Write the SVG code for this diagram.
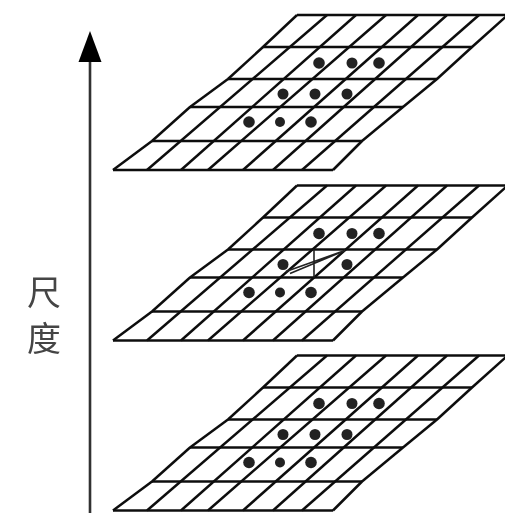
<svg xmlns="http://www.w3.org/2000/svg" width="505" height="513" viewBox="0 0 505 513">
<style>
.l{fill:none;stroke:#111;stroke-width:2.5;stroke-linejoin:round}
.t{stroke-width:1.6;stroke:#222;fill:none}
.d{fill:#222}
.x{font-family:"Noto Sans CJK SC","Noto Sans CJK TC",sans-serif;font-size:34px;font-weight:400;fill:#444;text-anchor:middle}
</style>
<defs>
<filter id="soft" x="-5%" y="-5%" width="110%" height="110%"><feGaussianBlur stdDeviation="0.6"/></filter>
<g id="grid">
<path class="l" d="M297 15H505M263 47H472M228 79H437M190 107H403M152 141H362M113 170H333"/>
<path class="l" d="M113 170L152 141L190 107L228 79L263 47L297 15M333 170L362 141L403 107L437 79L472 47L510 13"/>
<path class="l" d="M147 170L327 15M181 170L356 15M208 170L386 15M243 170L418 15M273 170L447 15M302 170L479 15"/>
</g>
<g id="dots8">
<circle class="d" cx="319" cy="63" r="5.8"/><circle class="d" cx="352" cy="63" r="5.5"/><circle class="d" cx="379" cy="63" r="5.8"/>
<circle class="d" cx="283" cy="94" r="5.5"/><circle class="d" cx="347" cy="94" r="5.5"/>
<circle class="d" cx="249" cy="122" r="5.8"/><circle class="d" cx="280" cy="122" r="5"/><circle class="d" cx="311" cy="122" r="5.8"/>
</g>
</defs>
<rect width="505" height="513" fill="#fff"/>
<g filter="url(#soft)">
<g id="axis">
<path d="M90 58V513" stroke="#333" stroke-width="2.6" fill="none"/>
<path d="M90 31L101.500 62H78.500Z" fill="#000"/>
</g>
<g id="label">
<text class="x" x="44" y="305">尺</text>
<text class="x" x="44" y="351">度</text>
</g>
<g id="layer-top">
<use href="#grid"/><use href="#dots8"/>
<circle class="d" cx="315" cy="94" r="5.5"/>
</g>
<g id="layer-middle" transform="translate(0 170.5)">
<use href="#grid"/><use href="#dots8"/>
<path class="t" d="M314 79V107M286 101L342 81M290 103L345 80"/>
</g>
<g id="layer-bottom" transform="translate(0 340.5)">
<use href="#grid"/><use href="#dots8"/>
<circle class="d" cx="315" cy="94" r="5.5"/>
</g>
</g>
</svg>
